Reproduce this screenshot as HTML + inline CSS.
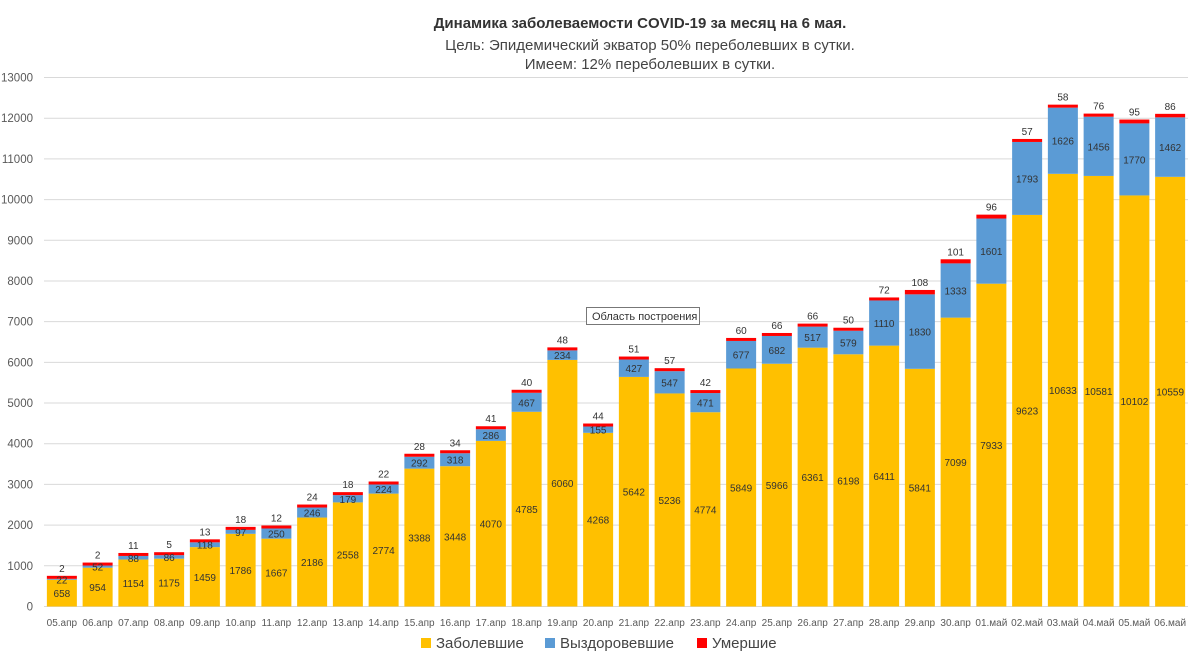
<!DOCTYPE html>
<html><head><meta charset="utf-8"><style>
body{margin:0;background:#fff;font-family:"Liberation Sans","DejaVu Sans",sans-serif}
svg text{font-family:"Liberation Sans","DejaVu Sans",sans-serif}
</style></head><body>
<svg id="c" width="1200" height="660" xmlns="http://www.w3.org/2000/svg">
<text x="640" y="28" text-anchor="middle" font-size="15" font-weight="bold" fill="#333">Динамика заболеваемости COVID-19 за месяц на 6 мая.</text>
<text x="650" y="50" text-anchor="middle" font-size="15" fill="#444">Цель: Эпидемический экватор 50% переболевших в сутки.</text>
<text x="650" y="69" text-anchor="middle" font-size="15" fill="#444">Имеем: 12% переболевших в сутки.</text>
<g id="grid"></g><g id="bars"></g><g id="xl"></g>
<g>
<rect x="421" y="638" width="10" height="10" fill="#FFC000"/>
<text x="436" y="648" font-size="15" fill="#444">Заболевшие</text>
<rect x="545" y="638" width="10" height="10" fill="#5B9BD5"/>
<text x="560" y="648" font-size="15" fill="#444">Выздоровевшие</text>
<rect x="697" y="638" width="10" height="10" fill="#FF0000"/>
<text x="712" y="648" font-size="15" fill="#444">Умершие</text>
</g>
<g>
<rect x="586.5" y="307.5" width="113" height="17" fill="#fff" stroke="#777"/>
<text x="592" y="320" font-size="11" fill="#333">Область построения</text>
</g>
</svg>
<script>
const categories=["05.апр","06.апр","07.апр","08.апр","09.апр","10.апр","11.апр","12.апр","13.апр","14.апр","15.апр","16.апр","17.апр","18.апр","19.апр","20.апр","21.апр","22.апр","23.апр","24.апр","25.апр","26.апр","27.апр","28.апр","29.апр","30.апр","01.май","02.май","03.май","04.май","05.май","06.май"];
const sick=[658,954,1154,1175,1459,1786,1667,2186,2558,2774,3388,3448,4070,4785,6060,4268,5642,5236,4774,5849,5966,6361,6198,6411,5841,7099,7933,9623,10633,10581,10102,10559];
const recovered=[22,52,88,86,118,97,250,246,179,224,292,318,286,467,234,155,427,547,471,677,682,517,579,1110,1830,1333,1601,1793,1626,1456,1770,1462];
const dead=[2,2,11,5,13,18,12,24,18,22,28,34,41,40,48,44,51,57,42,60,66,66,50,72,108,101,96,57,58,76,95,86];
const yTicks=[0,1000,2000,3000,4000,5000,6000,7000,8000,9000,10000,11000,12000,13000];
const NS="http://www.w3.org/2000/svg";
const L=44,R=1188,Y0=606.5,YT=77.5,YMAX=13000;
const y=v=>Y0-(Y0-YT)*v/YMAX;
const step=(R-L)/categories.length;
const xc=i=>L+step*(i+0.5);
const bw=30;
function mk(t,a,p){const e=document.createElementNS(NS,t);for(const k in a)e.setAttribute(k,a[k]);p.appendChild(e);return e;}
const g=document.getElementById('grid'),b=document.getElementById('bars'),xl=document.getElementById('xl');
yTicks.forEach(v=>{
 const ln=mk('line',{x1:L,x2:R,y1:y(v),y2:y(v),stroke:'#d9d9d9','stroke-width':1},g);
 
 
 const t=mk('text',{x:33,y:y(v)+4,'text-anchor':'end','font-size':11.5,fill:'#595959'},g);
 t.textContent=v;
 
 
});
categories.forEach((c,i)=>{
 const x=xc(i)-bw/2;
 const y1=y(sick[i]),y2=y(sick[i]+recovered[i]);
 const dh=Math.max(y(0)-y(dead[i]),3);
 const y3=y2-dh;
 const r1=mk('rect',{x:x,y:y1,width:bw,height:Y0-y1,fill:'#FFC000'},b);
 
 
 const r2=mk('rect',{x:x,y:y2,width:bw,height:y1-y2,fill:'#5B9BD5'},b);
 
 
 const r3=mk('rect',{x:x,y:y3,width:bw,height:dh,fill:'#FF0000'},b);
 
 
 const t1=mk('text',{x:xc(i),y:(y1+Y0)/2+4,'text-anchor':'middle','font-size':10,fill:'#333'},b);
 t1.textContent=sick[i];
 
 
 const t2=mk('text',{x:xc(i),y:(y1+y2)/2+4,'text-anchor':'middle','font-size':10,fill:'#333'},b);
 t2.textContent=recovered[i];
 
 
 const t3=mk('text',{x:xc(i),y:y3-4,'text-anchor':'middle','font-size':10,fill:'#333'},b);
 t3.textContent=dead[i];
 
 
 const tx=mk('text',{x:xc(i),y:626,'text-anchor':'middle','font-size':10,fill:'#595959'},xl);
 tx.textContent=c;
 
 
});
</script>
</body></html>
